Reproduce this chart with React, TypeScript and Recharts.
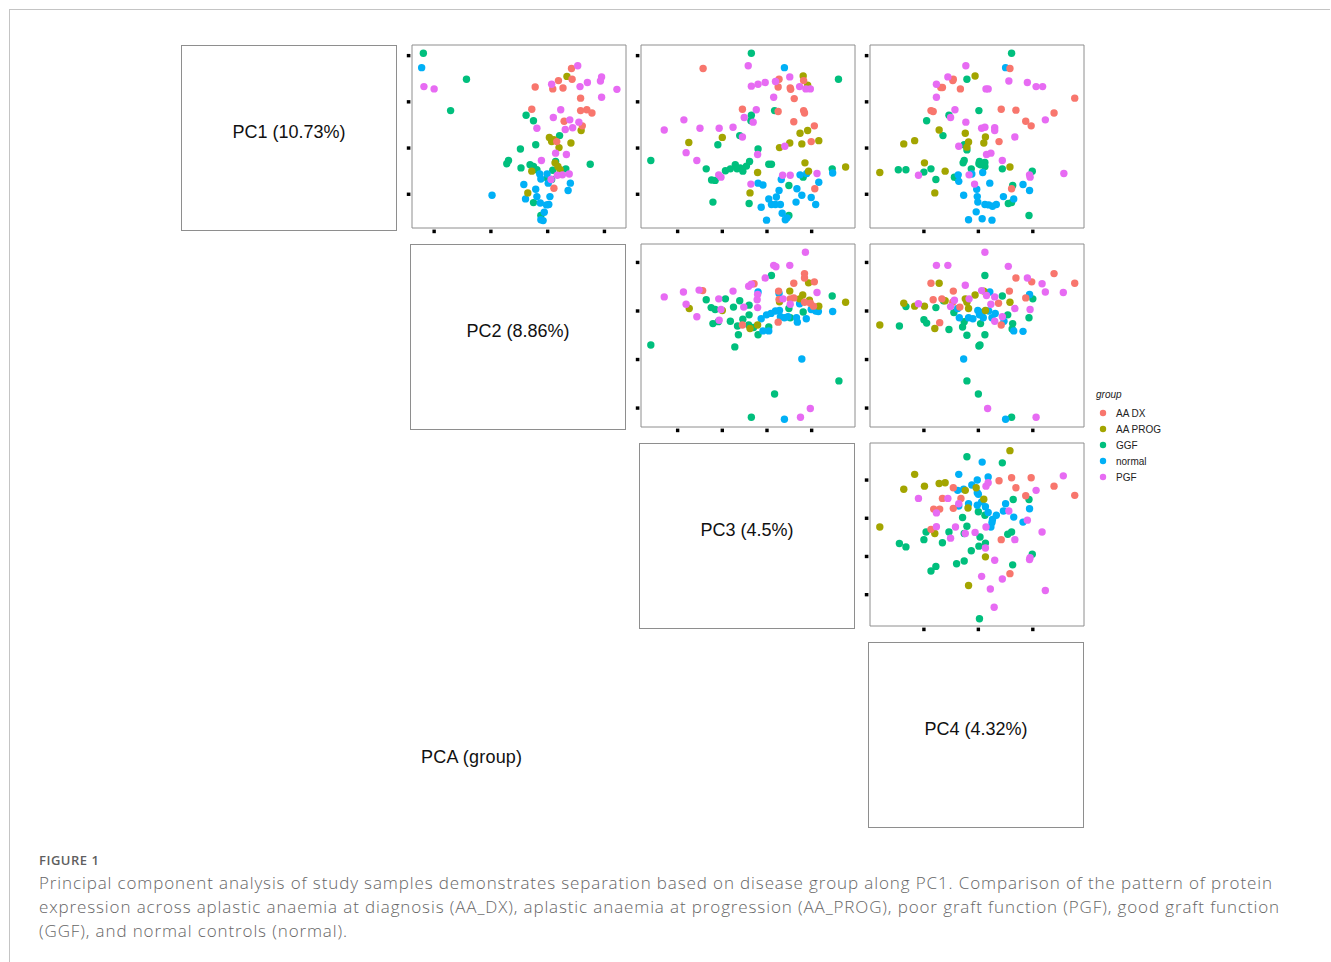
import { ScatterChart, Scatter, XAxis, YAxis, ReferenceArea } from "recharts";

/* ---------------- groups / axes ---------------- */

const GROUPS = ["AA DX", "AA PROG", "GGF", "normal", "PGF"];
const COLORS = ["#F8766D", "#A3A500", "#00BF7D", "#00B0F6", "#E76BF3"];

const PC_LABELS = ["PC1 (10.73%)", "PC2 (8.86%)", "PC3 (4.5%)", "PC4 (4.32%)"];
const PC_TICKS = [
  [-10, 0, 10, 20],
  [-20, -10, 0, 10],
  [-20, -10, 0, 10],
  [-10, 0, 10],
];
const PC_DOMAIN = [
  [-17.3, 22.3],
  [-23.9, 13.8],
  [-28.2, 19.7],
  [-19.9, 19.4],
];

/* ---------------- scores, one list per group (order of GROUPS) ---------------- */

// x = PC2, y = PC1
const PC1_VS_PC2 = [
  [[4.2,17.2],[1.9,14.6],[4.3,14.9],[0.9,12.8],[2.7,13.0],[-2.2,13.2],[5.8,10.8],[-2.8,8.4],[5.8,8.1],[6.9,8.3],[7.8,7.6],[2.9,5.8],[6.1,4.8],[1.6,1.4],[1.1,-8.7]],
  [[3.4,15.5],[5.9,3.8],[0.3,2.3],[0.7,1.4],[1.1,1.8],[2.0,0.1],[4.1,1.1],[1.3,-3.2],[1.8,-4.0],[2.2,-4.7],[-2.8,-5.0],[-3.5,-9.7]],
  [[-21.9,20.5],[-14.3,14.9],[-17.1,8.1],[-3.8,7.1],[-2.5,5.9],[-2.1,0.7],[-4.8,-0.2],[2.1,2.7],[-6.9,-2.7],[-7.2,-3.4],[-4.7,-4.3],[-3.1,-3.6],[-2.5,-4.0],[-1.9,-4.7],[1.4,-2.9],[0.9,-4.8],[3.2,-4.5],[7.5,-3.5],[0.7,-6.8],[-0.1,-6.5],[-2.5,-11.8],[-1.2,-14.6]],
  [[-22.2,17.4],[-9.8,-10.2],[-4.2,-7.9],[-2.1,-8.9],[-1.4,-5.6],[-1.2,-6.7],[-0.1,-5.6],[0.1,-7.6],[-3.9,-11.0],[-1.9,-10.5],[0.4,-10.5],[-1.3,-11.9],[-0.2,-12.3],[0.2,-12.2],[-0.6,-13.9],[-1.2,-15.5],[-0.8,-15.7],[4.0,-7.6],[3.6,-9.2]],
  [[5.3,17.8],[9.5,15.4],[9.3,14.5],[7.0,14.2],[5.7,13.3],[0.7,13.8],[12.2,12.7],[9.5,11.0],[-21.8,13.3],[-20.0,12.8],[2.3,8.3],[1.0,6.6],[3.9,6.1],[5.5,5.6],[4.4,4.4],[3.1,4.0],[-1.9,4.3],[1.4,-1.1],[3.3,-1.4],[-1.1,-2.7],[1.7,-5.9],[2.6,-5.8],[3.8,-5.6],[0.6,-6.8]],
];

// x = PC3, y = PC1
const PC1_VS_PC3 = [
  [[-14.3,17.2],[2.7,14.9],[2.5,13.2],[5.2,13.0],[5.3,12.7],[8.2,14.6],[6.1,10.7],[-5.5,8.4],[2.5,7.9],[8.2,8.1],[8.4,7.6],[6.0,5.7],[10.6,4.8],[9.9,1.4],[10.7,-8.8]],
  [[8.1,15.6],[9.1,13.6],[-17.5,1.2],[-10.0,2.3],[9.1,3.8],[7.4,3.2],[5.1,1.1],[7.8,0.9],[11.6,1.6],[2.8,0.1],[8.5,-3.2],[9.3,-5.0],[-2.1,-5.3],[-3.8,-9.7],[17.6,-4.1]],
  [[-3.5,20.5],[16.0,14.9],[-26.0,-2.7],[-13.6,-4.5],[-12.4,-6.9],[-11.6,-7.0],[-12.1,-11.7],[-11.0,0.7],[-6.1,2.7],[-3.5,7.1],[-3.6,5.9],[-2.0,-0.2],[-9.3,-4.9],[-8.2,-4.5],[-7.1,-3.6],[-6.7,-4.5],[-6.0,-4.3],[-5.4,-5.0],[-4.6,-3.9],[-3.9,-2.9],[0.4,-3.5],[1.0,-3.5],[1.7,8.1],[4.9,-8.1],[8.1,-6.3],[14.6,-4.5],[-4.0,-12.0],[4.9,-14.6]],
  [[3.9,17.4],[-2.0,-7.6],[-0.9,-8.0],[3.2,-6.8],[2.7,-9.2],[2.1,-10.6],[0.4,-11.0],[1.0,-12.2],[1.9,-12.2],[3.0,-12.2],[-1.3,-12.8],[3.4,-14.1],[-0.1,-15.6],[4.1,-15.5],[4.5,-15.1],[6.7,-8.8],[7.8,-10.2],[6.5,-11.7],[7.4,-5.8],[8.9,-5.5],[9.9,-10.7],[10.9,-12.2],[11.6,-7.4],[14.7,-5.4]],
  [[-4.2,17.8],[-3.5,13.4],[-2.0,13.8],[-0.4,14.2],[1.9,14.4],[5.1,15.4],[7.3,13.3],[8.7,12.8],[9.7,12.8],[1.5,11.0],[-2.4,8.3],[-5.1,6.6],[-3.1,5.6],[-18.6,6.1],[-23.0,3.9],[-15.0,4.3],[-10.7,4.3],[-7.6,4.5],[-5.5,2.4],[-18.1,-1.0],[-15.7,-2.7],[-10.8,-5.8],[-10.3,-6.3],[-3.6,-7.8],[-2.1,-1.4],[4.0,0.4],[3.5,-5.9],[5.2,-5.9],[11.2,-5.5]],
];

// x = PC4, y = PC1
const PC1_VS_PC4 = [
  [[5.8,17.2],[-4.6,14.9],[-4.7,14.6],[-6.9,13.1],[-6.6,13.1],[-3.3,12.8],[-8.7,8.1],[-8.3,7.9],[4.2,8.4],[6.9,8.2],[13.9,7.6],[17.7,10.8],[8.7,5.8],[9.7,4.8],[3.8,1.4],[6.1,-8.8]],
  [[-0.6,15.6],[-7.2,3.9],[-11.7,1.6],[-13.7,0.9],[-2.4,3.2],[-1.8,1.3],[-2.1,0.2],[1.3,2.4],[1.0,1.1],[-9.9,-3.2],[-6.1,-5.0],[-18.1,-5.3],[-8.0,-9.7],[5.8,-4.1]],
  [[6.1,20.5],[-2.1,14.9],[0.1,8.1],[-5.4,7.1],[-9.5,5.9],[-6.5,2.7],[-2.6,0.7],[-2.1,-0.4],[-14.7,-4.7],[-13.3,-4.7],[-8.7,-4.5],[-10.0,-5.2],[-7.8,-6.8],[-2.8,-3.2],[-2.6,-2.7],[-1.3,-4.5],[0.2,-2.9],[0.1,-3.4],[0.4,-3.6],[1.2,-3.1],[1.2,-4.0],[4.4,-4.5],[-4.4,-6.3],[-3.9,-6.5],[9.9,-5.0],[6.3,-8.1],[5.5,-12.0],[6.1,-11.8],[9.3,-14.6]],
  [[5.0,17.4],[-3.7,-5.8],[-3.6,-7.2],[-1.2,-5.6],[0.8,-5.3],[-0.3,-8.9],[2.1,-7.6],[-2.7,-10.2],[-0.2,-10.5],[-0.1,-11.7],[1.2,-12.2],[1.9,-12.3],[2.6,-12.6],[3.3,-12.2],[-0.4,-13.8],[-1.8,-15.5],[0.7,-15.3],[2.5,-15.6],[4.6,-10.5],[6.5,-11.0],[8.2,-7.9],[9.4,-9.2]],
  [[-2.3,17.8],[-5.6,15.4],[-7.7,13.8],[-7.7,11.0],[-4.3,8.3],[-5.1,6.6],[-2.3,5.6],[1.4,12.8],[1.8,12.8],[5.6,14.5],[9.0,14.2],[10.6,13.3],[11.8,13.3],[12.3,6.1],[0.6,4.3],[1.2,4.5],[3.0,4.4],[3.0,3.8],[6.7,2.4],[-3.6,0.4],[1.5,-1.4],[2.3,-1.1],[4.4,-2.7],[-11.0,-5.9],[-1.7,-5.8],[9.4,-5.8],[9.5,-6.3],[15.7,-5.5],[-0.7,-7.8]],
];

// x = PC3, y = PC2
const PC2_VS_PC3 = [
  [[-14.4,4.2],[-2.9,5.6],[2.6,4.1],[2.7,2.4],[5.2,2.5],[6.0,2.7],[6.0,5.7],[8.4,7.7],[8.4,6.8],[10.6,6.0],[8.4,1.8],[9.7,1.6],[10.4,1.0],[2.5,-2.3],[-5.5,-2.9]],
  [[-17.4,0.5],[-10.0,0.1],[-3.8,-3.6],[-2.1,-2.9],[2.8,1.9],[5.1,4.1],[8.0,3.3],[7.3,2.5],[9.3,5.8],[9.5,2.2],[11.6,1.0],[17.6,1.8]],
  [[-26.0,-7.0],[-13.6,2.3],[-12.5,0.7],[-11.6,0.3],[-12.1,-2.6],[-10.9,-2.2],[-9.3,2.5],[-7.5,0.8],[-6.1,2.1],[-8.2,-2.1],[-6.6,-3.1],[-6.4,-4.9],[-7.2,-7.4],[-5.4,-1.7],[-4.0,-0.8],[-4.0,1.2],[-4.1,-2.9],[-3.0,-3.4],[-2.0,-4.9],[0.4,-3.3],[1.0,7.3],[4.9,0.5],[5.2,-1.4],[8.1,-0.2],[14.6,3.1],[16.1,-14.4],[1.7,-17.1],[-3.5,-21.9]],
  [[-2.0,3.9],[-1.3,-1.6],[-0.1,-0.8],[0.9,-0.5],[1.9,0.0],[2.8,0.1],[3.0,-1.2],[3.9,-1.4],[4.7,-1.2],[2.7,3.6],[-0.9,-4.1],[0.4,-4.1],[6.6,-1.4],[6.8,-2.3],[8.8,-1.6],[7.3,1.5],[9.9,0.3],[10.9,0.0],[11.5,-0.1],[14.7,-0.1],[7.8,-9.9],[3.9,-22.3]],
  [[8.6,12.1],[1.5,9.4],[2.0,9.1],[5.1,9.4],[-0.4,6.8],[-4.1,5.1],[-3.5,5.5],[-18.7,3.9],[-15.2,4.3],[-23.0,2.9],[-18.1,1.4],[-15.7,-1.2],[-10.8,2.5],[-7.6,4.1],[-10.7,-1.9],[-10.3,0.3],[-5.2,0.8],[-2.1,3.4],[-2.2,2.3],[-2.1,0.7],[3.6,2.5],[5.2,1.4],[11.2,3.8],[9.7,-20.1],[7.5,-21.9]],
];

// x = PC4, y = PC2
const PC2_VS_PC4 = [
  [[-8.7,5.7],[-8.3,2.3],[-6.7,2.5],[-7.1,-2.4],[-4.6,4.1],[-4.7,1.8],[-3.4,0.8],[3.7,1.6],[5.7,4.1],[6.9,6.8],[9.8,6.0],[13.9,7.7],[17.7,5.7],[8.7,2.7],[4.2,-2.9]],
  [[-18.1,-2.9],[-13.7,1.6],[-11.7,1.0],[-9.9,1.0],[-7.2,5.7],[-8.0,-3.6],[-6.1,2.1],[-2.4,2.5],[-2.1,1.8],[-1.8,0.5],[-0.6,3.3],[1.0,4.1],[5.8,1.8],[1.3,0.1]],
  [[-14.5,-3.1],[-13.3,0.9],[-10.0,-1.8],[-9.5,-2.5],[-7.8,0.7],[-6.4,2.1],[-5.4,-3.8],[-4.5,-0.3],[-2.9,-3.3],[-2.6,-2.2],[-2.1,-5.0],[0.1,-7.2],[0.3,-7.0],[0.4,-2.6],[1.2,7.3],[1.2,-4.9],[4.4,3.1],[5.4,-0.8],[6.3,-2.6],[6.2,-3.7],[9.3,-1.4],[10.0,2.5],[-2.1,-14.4],[0.0,-17.1],[6.1,-21.9]],
  [[-3.8,0.5],[-3.5,-1.4],[-1.8,-1.4],[-1.0,-1.6],[-0.1,0.1],[0.2,-0.8],[0.7,-0.3],[0.9,-1.4],[1.9,0.0],[2.5,-1.4],[3.1,-0.5],[2.1,3.9],[4.7,-2.1],[6.5,-4.1],[8.2,-4.2],[9.4,3.4],[-2.7,-9.9],[5.0,-22.3]],
  [[1.2,12.1],[-7.7,9.4],[-5.6,9.4],[5.5,9.2],[-2.4,5.3],[9.0,6.8],[11.7,5.6],[12.3,3.9],[15.6,3.8],[-11.0,1.5],[-5.1,0.9],[-4.4,2.2],[-1.7,2.5],[0.6,4.2],[1.5,3.2],[2.3,1.4],[3.0,2.9],[4.4,-1.2],[6.7,0.5],[9.5,0.3],[1.7,-20.1],[10.6,-21.9],[3.0,-2.1]],
];

// x = PC4, y = PC3
const PC3_VS_PC4 = [
  [[-4.6,8.0],[-6.6,5.2],[-3.2,5.2],[-8.2,2.4],[-7.1,2.4],[-4.6,2.6],[-8.7,-2.9],[3.8,9.8],[6.1,10.6],[6.9,8.0],[9.7,10.6],[13.9,8.4],[17.7,6.0],[8.7,5.9],[4.2,-5.6],[5.8,-14.5]],
  [[5.8,17.7],[-11.7,11.5],[-13.7,7.6],[-9.9,8.4],[-7.2,9.1],[-6.1,9.3],[-2.4,7.3],[-0.4,8.0],[1.0,5.0],[-1.9,2.7],[-18.1,-2.3],[-8.0,-4.0],[1.3,-10.1],[-1.8,-17.6]],
  [[-2.1,16.1],[4.4,14.5],[6.4,4.9],[9.3,4.9],[-2.9,0.2],[0.0,1.7],[1.2,0.8],[-2.1,-2.1],[-2.6,-4.0],[-9.6,-3.6],[-10.0,-5.6],[-5.4,-3.6],[-6.6,-6.4],[-14.5,-6.6],[-13.3,-7.5],[0.3,-4.9],[0.1,-7.3],[1.3,-6.5],[-1.3,-8.5],[-4.0,-11.9],[-2.6,-11.2],[-7.8,-12.6],[-8.7,-13.8],[5.4,-4.2],[6.1,-3.6],[9.9,-9.4],[6.3,-12.2],[0.2,-26.3]],
  [[-3.6,11.5],[0.7,14.7],[1.8,10.8],[-0.2,10.0],[-1.2,8.7],[-3.8,7.3],[-2.7,7.6],[-0.2,6.7],[0.0,6.3],[-1.8,3.8],[-3.6,3.2],[-0.2,3.4],[0.6,4.3],[1.3,3.0],[1.8,1.5],[2.6,-0.3],[3.3,0.8],[2.5,-1.1],[2.3,-2.3],[5.0,3.8],[4.6,1.9],[6.5,0.3],[8.2,-1.0],[9.4,2.5]],
  [[-11.0,5.2],[-5.6,5.2],[-7.7,1.4],[-7.7,-2.2],[-5.1,-5.2],[-4.2,-2.3],[-3.6,3.8],[-2.4,-4.0],[-0.6,-3.7],[1.3,-7.8],[1.4,8.4],[1.8,9.3],[1.4,-2.3],[3.0,-11.0],[0.6,-15.2],[2.2,-18.5],[2.9,-23.3],[4.4,-15.9],[5.6,1.9],[6.7,-5.6],[9.0,-0.5],[9.4,-10.8],[9.5,-10.3],[10.6,7.3],[11.7,-3.6],[12.3,-18.9],[15.6,11.1]],
];

// row = PC on y, col = PC on x
const PANELS = [
  { row: 0, col: 1, scores: PC1_VS_PC2 },
  { row: 0, col: 2, scores: PC1_VS_PC3 },
  { row: 0, col: 3, scores: PC1_VS_PC4 },
  { row: 1, col: 2, scores: PC2_VS_PC3 },
  { row: 1, col: 3, scores: PC2_VS_PC4 },
  { row: 2, col: 3, scores: PC3_VS_PC4 },
];

const CAPTION = [
  "Principal component analysis of study samples demonstrates separation based on disease group along PC1. Comparison of the pattern of protein",
  "expression across aplastic anaemia at diagnosis (AA_DX), aplastic anaemia at progression (AA_PROG), poor graft function (PGF), good graft function",
  "(GGF), and normal controls (normal).",
];

/* ---------------- layout ---------------- */

const PW = 214; // plot width
const PH = 183; // plot height
const AX = 6; // room for tick marks
const FONT = "'Liberation Sans', Arial, Helvetica, sans-serif";
const DRAW_ORDER = [2, 3, 1, 0, 4];

// axis ticks carry no labels, only the short black marks
const NoLabel = () => <g />;

function PairPanel({ row, col, scores }: { row: number; col: number; scores: number[][][] }) {
  const left = 183 + col * 229;
  const top = 45 + row * 199;
  const xd = PC_DOMAIN[col];
  const yd = PC_DOMAIN[row];
  const tickStyle = { stroke: "#000", strokeWidth: 3.4, strokeDasharray: "3.6 10" };

  return (
    <div style={{ position: "absolute", left: left - AX, top: top - 1 }}>
      <ScatterChart
        width={PW + AX + 1}
        height={PH + AX + 1}
        margin={{ top: 1, right: 1, bottom: 0, left: 0 }}
      >
        <XAxis
          type="number"
          dataKey="x"
          domain={xd}
          ticks={PC_TICKS[col]}
          interval={0}
          tick={NoLabel}
          tickSize={5.2}
          tickLine={tickStyle}
          axisLine={false}
          height={AX}
          allowDataOverflow
        />
        <YAxis
          type="number"
          dataKey="y"
          domain={yd}
          ticks={PC_TICKS[row]}
          interval={0}
          tick={NoLabel}
          tickSize={5.2}
          tickLine={tickStyle}
          axisLine={false}
          width={AX}
          allowDataOverflow
        />
        <ReferenceArea
          x1={xd[0]}
          x2={xd[1]}
          y1={yd[0]}
          y2={yd[1]}
          fill="none"
          stroke="#8e8e8e"
          strokeWidth={1}
          ifOverflow="visible"
        />
        {DRAW_ORDER.map((g) => (
          <Scatter
            key={GROUPS[g]}
            name={GROUPS[g]}
            data={scores[g].map(([x, y]) => ({ x, y }))}
            fill={COLORS[g]}
            isAnimationActive={false}
            shape={(p: any) => <circle cx={p.cx} cy={p.cy} r={3.7} fill={COLORS[g]} />}
          />
        ))}
      </ScatterChart>
    </div>
  );
}

function LabelBox({ i }: { i: number }) {
  return (
    <div
      style={{
        position: "absolute",
        left: 181 + i * 229,
        top: 45 + i * 199,
        width: 214,
        height: 184,
        border: "1px solid #8e8e8e",
        boxSizing: "content-box",
        fontFamily: FONT,
        fontSize: 18,
        lineHeight: "20px",
        color: "#111",
        textAlign: "center",
      }}
    >
      <div style={{ marginTop: 76 }}>{PC_LABELS[i]}</div>
    </div>
  );
}

export default function App() {
  return (
    <div
      style={{
        position: "absolute",
        left: 0,
        top: 0,
        width: 1331,
        height: 962,
        background: "#fff",
        overflow: "hidden",
      }}
    >
      {/* page frame */}
      <div
        style={{
          position: "absolute",
          left: 9,
          top: 9,
          width: 1320,
          height: 960,
          borderTop: "1px solid #c4c4c4",
          borderLeft: "1px solid #c4c4c4",
        }}
      />

      {[0, 1, 2, 3].map((i) => (
        <LabelBox key={i} i={i} />
      ))}

      {PANELS.map((p) => (
        <PairPanel key={`${p.row}-${p.col}`} row={p.row} col={p.col} scores={p.scores} />
      ))}

      <div
        style={{
          position: "absolute",
          left: 421,
          top: 747,
          fontFamily: FONT,
          fontSize: 18,
          letterSpacing: 0.2,
          color: "#111",
          whiteSpace: "nowrap",
        }}
      >
        PCA (group)
      </div>

      {/* legend */}
      <div style={{ position: "absolute", left: 1096, top: 389, fontFamily: FONT, color: "#222" }}>
        <div style={{ fontSize: 10, fontStyle: "italic", height: 14 }}>group</div>
        {GROUPS.map((g, i) => (
          <div
            key={g}
            style={{ position: "absolute", left: 0, top: 18 + i * 16, height: 12, display: "flex", alignItems: "center", whiteSpace: "nowrap" }}
          >
            <svg width={20} height={12}>
              <circle cx={7} cy={6} r={3.2} fill={COLORS[i]} />
            </svg>
            <span style={{ fontSize: 10 }}>{g}</span>
          </div>
        ))}
      </div>

      {/* caption */}
      <div
        style={{
          position: "absolute",
          left: 39,
          top: 851,
          fontFamily: "'Open Sans', sans-serif",
          fontSize: 13,
          fontWeight: 600,
          letterSpacing: 0.5,
          color: "#5f5f5f",
        }}
      >
        FIGURE 1
      </div>
      {CAPTION.map((line, i) => (
        <div
          key={i}
          style={{
            position: "absolute",
            left: 39,
            top: 871 + i * 24,
            fontFamily: "'Open Sans', sans-serif",
            fontSize: 17,
            fontWeight: 300,
            letterSpacing: 0.88,
            color: "#666",
            whiteSpace: "nowrap",
          }}
        >
          {line}
        </div>
      ))}
    </div>
  );
}
